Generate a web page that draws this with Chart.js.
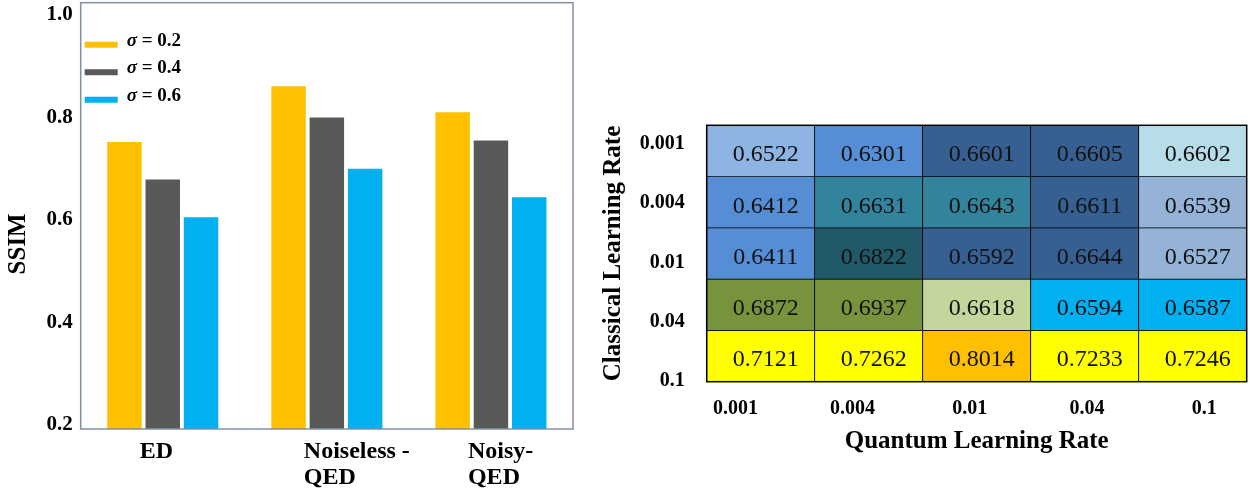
<!DOCTYPE html>
<html>
<head>
<meta charset="utf-8">
<script src="https://cdn.jsdelivr.net/npm/chart.js@4.4.1/dist/chart.umd.min.js"></script>
<style>
  body { margin: 0; background: #fff; }
  #wrap { position: relative; width: 1250px; height: 489px; }
  #barChart { position: absolute; left: 0; top: 0; }
  #heatChart { position: absolute; left: 590px; top: 0; }
</style>
</head>
<body>
<div id="wrap">
  <canvas id="barChart" width="600" height="489"></canvas>
  <canvas id="heatChart" width="660" height="489"></canvas>
</div>
<script>
// left: SSIM per method and noise level
const methods = ['ED', ['Noiseless -', 'QED'], ['Noisy-', 'QED']];
const sigmas = ['0.2', '0.4', '0.6'];
const ssimSigma02 = [0.752, 0.861, 0.810];
const ssimSigma04 = [0.679, 0.800, 0.755];
const ssimSigma06 = [0.605, 0.700, 0.644];
const ssimTicks = [0.2, 0.4, 0.6, 0.8, 1.0];

// right: SSIM grid, rows = classical lr, cols = quantum lr
const quantumRates = ['0.001', '0.004', '0.01', '0.04', '0.1'];
const classicalRates = ['0.001', '0.004', '0.01', '0.04', '0.1'];
const gridSsim = [
  [0.6522, 0.6301, 0.6601, 0.6605, 0.6602],
  [0.6412, 0.6631, 0.6643, 0.6611, 0.6539],
  [0.6411, 0.6822, 0.6592, 0.6644, 0.6527],
  [0.6872, 0.6937, 0.6618, 0.6594, 0.6587],
  [0.7121, 0.7262, 0.8014, 0.7233, 0.7246]
];

const cellColors = [
  ['#8eb4e3', '#558ed5', '#376092', '#376092', '#b7dee8'],
  ['#558ed5', '#31849b', '#31849b', '#376092', '#95b3d7'],
  ['#558ed5', '#215968', '#376092', '#376092', '#95b3d7'],
  ['#77933c', '#77933c', '#c3d69b', '#00b0f0', '#00b0f0'],
  ['#ffff00', '#ffff00', '#ffc000', '#ffff00', '#ffff00']
];
const barColors = ['#ffc000', '#595959', '#00b0f0'];
const serif = "'Times New Roman', 'Liberation Serif', serif";

const barDecor = {
  id: 'barDecor',
  afterDatasetsDraw(chart) {
    const { ctx, chartArea: a } = chart;
    ctx.save();
    ctx.strokeStyle = '#8191a5';
    ctx.lineWidth = 1.5;
    ctx.strokeRect(a.left, a.top, a.right - a.left, a.bottom - a.top);

    chart.data.datasets.forEach((ds, i) => {
      const y = a.top + 42 + i * 27.5;
      ctx.strokeStyle = ds.backgroundColor;
      ctx.lineWidth = 6;
      ctx.beginPath();
      ctx.moveTo(a.left + 4, y);
      ctx.lineTo(a.left + 37, y);
      ctx.stroke();
      ctx.fillStyle = '#000';
      ctx.textBaseline = 'middle';
      ctx.textAlign = 'left';
      ctx.font = 'italic bold 19px ' + serif;
      ctx.fillText(ds.label[0], a.left + 46, y - 4);
      const w = ctx.measureText(ds.label[0]).width;
      ctx.font = 'bold 19px ' + serif;
      ctx.fillText(ds.label.slice(1), a.left + 46 + w, y - 4);
    });

    ctx.translate(19, (a.top + a.bottom) / 2 + 28);
    ctx.rotate(-Math.PI / 2);
    ctx.font = 'bold 25px ' + serif;
    ctx.textAlign = 'center';
    ctx.fillStyle = '#000';
    ctx.fillText('SSIM', 0, 0);
    ctx.restore();
  }
};

new Chart(document.getElementById('barChart'), {
  type: 'bar',
  data: {
    labels: methods,
    datasets: [ssimSigma02, ssimSigma04, ssimSigma06].map((d, i) => ({
      label: 'σ = ' + sigmas[i],
      data: d,
      backgroundColor: barColors[i],
      categoryPercentage: 0.7,
      barPercentage: 0.9
    }))
  },
  options: {
    responsive: false,
    animation: false,
    layout: { padding: { top: 2.7, right: 27, left: 0, bottom: 0 } },
    plugins: { legend: { display: false }, tooltip: { enabled: false } },
    scales: {
      x: {
        grid: { display: false, drawTicks: false },
        border: { display: false },
        ticks: {
          color: '#000',
          font: { family: serif, size: 24, weight: 'bold', lineHeight: 1.08 },
          align: 'start',
          labelOffset: -23,
          padding: 10,
          maxRotation: 0,
          autoSkip: false
        },
        afterFit: s => { s.height = 60; s.paddingLeft = 0; s.paddingRight = 0; }
      },
      y: {
        min: 0.1916,
        max: 1.024,
        grid: { display: false, drawTicks: false },
        border: { display: false },
        ticks: {
          color: '#000',
          font: { family: serif, size: 21, weight: 'bold' },
          padding: 8,
          callback: v => v.toFixed(1)
        },
        afterBuildTicks: s => { s.ticks = ssimTicks.map(v => ({ value: v })); },
        afterFit: s => { s.width = 80.7; s.paddingTop = 0; s.paddingBottom = 0; }
      }
    }
  },
  plugins: [barDecor]
});

const heatText = {
  id: 'heatText',
  afterDatasetsDraw(chart) {
    const { ctx, chartArea: a } = chart;
    ctx.save();
    ctx.font = '24px ' + serif;
    ctx.fillStyle = '#111';
    ctx.textAlign = 'center';
    ctx.textBaseline = 'middle';
    chart.data.datasets.forEach((ds, i) => {
      chart.getDatasetMeta(i).data.forEach((bar, j) => {
        const { x, y, base } = bar.getProps(['x', 'y', 'base'], true);
        ctx.fillText(gridSsim[i][j].toFixed(4), x + 5, (y + base) / 2 + 4);
      });
    });
    ctx.strokeStyle = '#000';
    ctx.lineWidth = 1.5;
    ctx.strokeRect(a.left, a.top, a.right - a.left, a.bottom - a.top);
    ctx.restore();
  }
};

const labelFont = { family: serif, size: 20, weight: 'bold' };
const titleFont = { family: serif, size: 25, weight: 'bold' };

new Chart(document.getElementById('heatChart'), {
  type: 'bar',
  data: {
    labels: quantumRates,
    datasets: classicalRates.map((c, i) => ({
      label: c,
      data: gridSsim[i].map(() => [i, i + 1]),
      backgroundColor: cellColors[i],
      borderColor: '#000',
      borderWidth: 0.75,
      borderSkipped: false,
      categoryPercentage: 1,
      barPercentage: 1,
      grouped: false
    }))
  },
  options: {
    responsive: false,
    animation: false,
    layout: { padding: { top: 125.3, right: 3.3, left: 0, bottom: 0 } },
    plugins: { legend: { display: false }, tooltip: { enabled: false } },
    scales: {
      x: { display: false, offset: true },
      y: { display: false, min: 0, max: 5, reverse: true },
      qx: {
        type: 'linear',
        position: 'bottom',
        offset: false,
        min: -0.245,
        max: 4.363,
        grid: { display: false, drawTicks: false, offset: false },
        border: { display: false },
        ticks: { color: '#000', font: labelFont, padding: 15.5, callback: v => quantumRates[v] },
        afterBuildTicks: s => { s.ticks = quantumRates.map((_, i) => ({ value: i })); },
        title: {
          display: true,
          text: 'Quantum Learning Rate',
          color: '#000',
          font: titleFont,
          padding: { top: 0, bottom: 32 }
        },
        afterFit: s => { s.height = 107.3; s.paddingLeft = 0; s.paddingRight = 0; }
      },
      cy: {
        type: 'linear',
        position: 'left',
        reverse: true,
        offset: false,
        min: -0.32,
        max: 4.019,
        grid: { display: false, drawTicks: false },
        border: { display: false },
        ticks: { color: '#000', font: labelFont, padding: 22, callback: v => classicalRates[v] },
        afterBuildTicks: s => { s.ticks = classicalRates.map((_, i) => ({ value: i })); },
        title: {
          display: true,
          text: 'Classical Learning Rate',
          color: '#000',
          font: titleFont,
          padding: { top: 9, bottom: 0 }
        },
        afterFit: s => { s.width = 116.7; s.paddingTop = 0; s.paddingBottom = 0; }
      }
    }
  },
  plugins: [heatText]
});
</script>
</body>
</html>
